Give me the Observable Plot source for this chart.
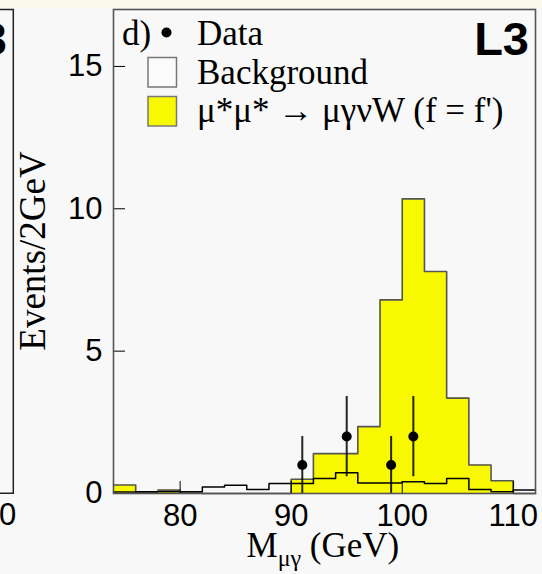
<!DOCTYPE html>
<html>
<head>
<meta charset="utf-8">
<script src="https://cdn.jsdelivr.net/npm/d3@7"></script>
<script src="https://cdn.jsdelivr.net/npm/@observablehq/plot@0.6"></script>
<style>
  html, body { margin: 0; padding: 0; background: #f8f8f8; }
  #wrap { position: relative; width: 542px; height: 574px; overflow: hidden; background: #f8f8f8; }
  #strip { position: absolute; left: 0; top: 0; width: 542px; height: 8px; background: #fafaec; }
  #wrap svg.overlay { position: absolute; left: 0; top: 0; pointer-events: none; }
  #chart { position: absolute; left: 0; top: 0; }
</style>
</head>
<body>
<div id="wrap">
  <div id="strip"></div>
  <div id="chart"></div>
</div>
<script>
// ---- data ----
const binWidth = 2;                       // GeV per bin
const binLow = [74, 76, 78, 80, 82, 84, 86, 88, 90, 92, 94, 96, 98, 100, 102, 104, 106, 108, 110];
const signal = [0.3, 0.05, 0.12, 0.02, 0, 0, 0, 0, 0.5, 1.4, 1.4, 2.35, 6.8, 10.35, 7.8, 3.35, 1.0, 0.45, 0];
const background = [0.05, 0.06, 0.06, 0.06, 0.23, 0.29, 0.14, 0.35, 0.35, 0.53, 0.73, 0.37, 0.37, 0.41, 0.35, 0.53, 0.14, 0.06, 0.12];
const dataMass = [91, 95, 99, 101];
const dataCounts = [1, 2, 1, 2];
const dataErr = [1, 1.41, 1, 1.41];
const xTicks = [80, 90, 100, 110];
const yTicks = [0, 5, 10, 15];
const xDomain = [74, 112];
const yDomain = [0, 17];

const legendLabels = ["Data", "Background", "μ*μ* → μγνW (f = f')"];
const panelTag = "d)";
const expTag = "L3";
const xLabelMain = "M", xLabelSub = "μγ", xLabelUnit = " (GeV)";
const yLabel = "Events/2GeV";

// ---- derived tables for the library ----
function steps(vals) {
  const pts = binLow.map((x, i) => ({x, y: vals[i]}));
  pts.push({x: binLow[binLow.length - 1] + binWidth, y: vals[vals.length - 1]});
  return pts;
}
const sigSteps = steps(signal);
const bkgSteps = steps(background);
const points = dataMass.map((m, i) => ({
  x: m, y: dataCounts[i], lo: Math.max(0, dataCounts[i] - dataErr[i]), hi: dataCounts[i] + dataErr[i]
}));

const yellow = "#f8f800";
const tickFont = "Liberation Sans, Arial, sans-serif";
const serif = "Liberation Serif, Times New Roman, serif";

const chart = Plot.plot({
  width: 542,
  height: 574,
  marginLeft: 113,
  marginRight: 7,
  marginTop: 9,
  marginBottom: 81,
  style: {background: "transparent", color: "black"},
  x: {domain: xDomain},
  y: {domain: yDomain},
  marks: [
    Plot.areaY(sigSteps, {x: "x", y: "y", curve: "step-after", fill: yellow}),
    Plot.line(sigSteps, {x: "x", y: "y", curve: "step-after", stroke: "#555", strokeWidth: 1.6}),
    Plot.line(bkgSteps, {x: "x", y: "y", curve: "step-after", stroke: "black", strokeWidth: 1.5}),
    Plot.ruleX(points, {x: "x", y1: "lo", y2: "hi", stroke: "black", strokeWidth: 2, strokeOpacity: 0.85}),
    Plot.dot(points, {x: "x", y: "y", r: 5, fill: "black"}),
    Plot.axisX({ticks: xTicks, tickSize: -12, tickPadding: 22, fontSize: 31, fontFamily: tickFont, label: null, stroke: "black"}),
    Plot.axisY({ticks: yTicks, tickSize: -12, tickPadding: 23, fontSize: 31, fontFamily: tickFont, label: null, stroke: "black"}),
    Plot.frame({stroke: "#555", strokeWidth: 1.6})
  ]
});
document.getElementById("chart").appendChild(chart);

// ---- overlay texts: legend, labels, neighbouring panel fragment ----
const ov = d3.select("#wrap").append("svg")
  .attr("class", "overlay").attr("width", 542).attr("height", 574);

// neighbouring panel fragment on the left
ov.append("path").attr("d", "M-5,9.5H13.3V493.3H-5").attr("fill", "none").attr("stroke", "#222").attr("stroke-width", 1.5);
ov.append("text").attr("x", 7).attr("y", 55).attr("text-anchor", "end")
  .attr("font-family", tickFont).attr("font-weight", "bold").attr("font-size", 47).text(expTag);
ov.append("text").attr("x", 7.5).attr("y", 525).attr("text-anchor", "middle")
  .attr("font-family", tickFont).attr("font-size", 31).text("0");

// L3 tag
ov.append("text").attr("x", 529).attr("y", 55).attr("text-anchor", "end")
  .attr("font-family", tickFont).attr("font-weight", "bold").attr("font-size", 47).text(expTag);

// legend
ov.append("text").attr("x", 122).attr("y", 45).attr("font-family", serif).attr("font-size", 35).text(panelTag);
ov.append("circle").attr("cx", 166.5).attr("cy", 32.5).attr("r", 5).attr("fill", "black");
ov.append("rect").attr("x", 148).attr("y", 57.5).attr("width", 28.5).attr("height", 29.5)
  .attr("fill", "#fbfbfb").attr("stroke", "#777").attr("stroke-width", 1.5);
ov.append("rect").attr("x", 148).attr("y", 96.5).attr("width", 28.5).attr("height", 29.5)
  .attr("fill", yellow).attr("stroke", "#777").attr("stroke-width", 1.5);
legendLabels.forEach((t, i) => {
  ov.append("text").attr("x", 197).attr("y", 45 + i * 38.5)
    .attr("font-family", serif).attr("font-size", 35).text(t);
});

// x label with subscript
const xl = ov.append("text").attr("x", 246.5).attr("y", 557).attr("font-family", serif).attr("font-size", 35);
xl.append("tspan").text(xLabelMain);
xl.append("tspan").attr("dy", 9).attr("font-size", 24).text(xLabelSub);
xl.append("tspan").attr("dy", -9).attr("font-size", 35).text(xLabelUnit);

// y label
ov.append("text").attr("transform", "translate(45,251) rotate(-90)").attr("text-anchor", "middle")
  .attr("font-family", serif).attr("font-size", 37).text(yLabel);
</script>
</body>
</html>
